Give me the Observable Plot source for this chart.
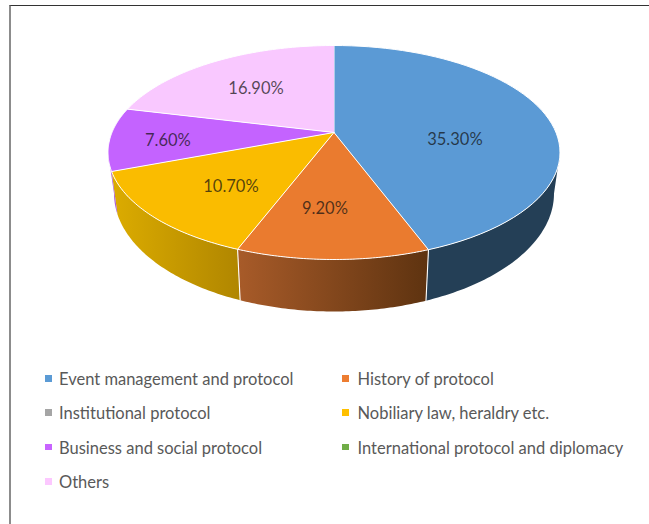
<!DOCTYPE html>
<html>
<head>
<meta charset="utf-8">
<script src="https://cdn.jsdelivr.net/npm/d3@7"></script>
<script src="https://cdn.jsdelivr.net/npm/@observablehq/plot@0.6"></script>
<style>
  html, body { margin: 0; padding: 0; background: #fff; }
  body { width: 649px; height: 524px; overflow: hidden; position: relative; }
  #frame { position: absolute; left: 9px; top: 4.5px; right: 0; bottom: 0; border-left: 2px solid #8c8c8c; border-top: 1.5px solid #333; }
  #chart { position: absolute; left: 0; top: 0; }
  #chart svg { display: block; }
  #legend { position: absolute; left: 0; top: 362px; width: 649px; font: 16.5px Lato, sans-serif; color: #595959; }
  .item { position: absolute; white-space: nowrap; line-height: 20px; }
  .swatch { position: absolute; width: 6.5px; height: 6.5px; top: 6px; }
</style>
</head>
<body>
<div id="frame"></div>
<div id="chart"></div>
<div id="legend"></div>
<script>
const categories = ["Event management and protocol", "History of protocol", "Institutional protocol", "Nobiliary law, heraldry etc.", "Business and social protocol", "International protocol and diplomacy", "Others"];
const shares = [35.3, 9.2, null, 10.7, 7.6, null, 16.9];
const colors = ["#5b9ad5", "#ea7b2f", "#a5a5a5", "#fabc00", "#c463ff", "#70ad47", "#f9c8ff"];
const legendColors = ["#5b9bd5", "#ed7d31", "#a5a5a5", "#ffc000", "#c864ff", "#70ad47", "#fcc8ff"];

// Layout of the tilted disc (unit-circle space)
const tilt = 0.187;           // how far the projected centre sits behind the ellipse centre
const baseX = 220 / 226, baseY = 118 / 107, baseDrop = -41 / 107;
const labelAnchors = [[.535, .121], [-.04, -.523], null, [-.456, -.318], [-.735, .112], null, [-.345, .598]];
const sideFills = {
  [categories[0]]: ["#243f56", "#243f56"],
  [categories[1]]: ["#a85b29", "#5e3310"],
  [categories[3]]: ["#dcac00", "#b08600"],
  [categories[4]]: ["#ad60dc", "#a85cd6"]
};

const total = d3.sum(shares);
const rim = deg => {
  const a = deg * Math.PI / 180, u = Math.sin(a), v = Math.cos(a), w = 1 + tilt * v;
  return [u * Math.sqrt(1 - tilt * tilt) / w, (v + tilt) / w];
};
// angle at which the rim reaches the ellipse's left/right extremes
const rightEdge = Math.acos(-tilt) * 180 / Math.PI, leftEdge = 360 - rightEdge;

let run = 0;
const slices = categories.map((name, i) => {
  if (shares[i] == null) return null;
  const start = run / total * 360;
  run += shares[i];
  return { name, start, end: run / total * 360, anchor: labelAnchors[i], value: shares[i] };
}).filter(Boolean);

const arc = (a, b) => d3.range(0, 61).map(k => rim(a + (b - a) * k / 60));
const base = ([x, y]) => [x * baseX, y * baseY + baseDrop];

const topRows = slices.flatMap(s =>
  [[0, tilt], ...arc(s.start, s.end)].map(p => ({ name: s.name, x: p[0], y: p[1] })));

const sides = slices.map(s => {
  const a = Math.max(s.start, rightEdge), b = Math.min(s.end, leftEdge);
  if (a >= b) return null;
  const top = arc(a, b);
  return { name: s.name, pts: [...top, ...top.map(base).reverse()] };
}).filter(Boolean);

const seams = slices.slice(0, 2).flatMap((s, i) => {
  const p = rim(s.end);
  return [[...p, i], [...base(p), i]];
});

const gradientDefs = () => {
  const defs = d3.create("svg:defs");
  sides.forEach((s, i) => {
    const g = defs.append("linearGradient").attr("id", "side" + i);
    g.append("stop").attr("offset", "0").attr("stop-color", sideFills[s.name][0]);
    g.append("stop").attr("offset", "1").attr("stop-color", sideFills[s.name][1]);
  });
  const g = d3.create("svg:g");
  g.append(() => defs.node());
  return g.node();
};

const chart = Plot.plot({
  width: 649,
  height: 362,
  margin: 0,
  style: { background: "transparent", overflow: "visible" },
  x: { domain: [-1, 1], range: [107.5, 559.5], axis: null },
  y: { domain: [1, -1], range: [45, 259], axis: null },
  color: { domain: categories, range: colors },
  marks: [
    gradientDefs,
    ...sides.map((s, i) => Plot.line(s.pts, { x: d => d[0], y: d => d[1], fill: `url(#side${i})`, stroke: "none" })),
    Plot.line(seams, { x: d => d[0], y: d => d[1], z: d => d[2], stroke: "#fff", strokeWidth: 1.1 }),
    Plot.line(topRows, { x: "x", y: "y", z: "name", fill: "name", stroke: "#fff", strokeWidth: 1, strokeLinejoin: "round" }),
    Plot.text(slices, {
      x: d => d.anchor[0], y: d => d.anchor[1],
      text: d => d.value.toFixed(2) + "%",
      fontFamily: "Lato, sans-serif", fontSize: 16.5, fill: "#111", fillOpacity: 0.72
    })
  ]
});
document.getElementById("chart").append(chart);

const legend = d3.select("#legend");
categories.forEach((name, i) => {
  const col = i % 2, row = Math.floor(i / 2);
  const item = legend.append("div").attr("class", "item")
    .style("left", (col ? 357.5 : 59) + "px")
    .style("top", (row * 34.4 + 7) + "px")
    .text(name);
  item.append("span").attr("class", "swatch")
    .style("left", (col ? -15.5 : -14) + "px")
    .style("background", legendColors[i]);
});
</script>
</body>
</html>
